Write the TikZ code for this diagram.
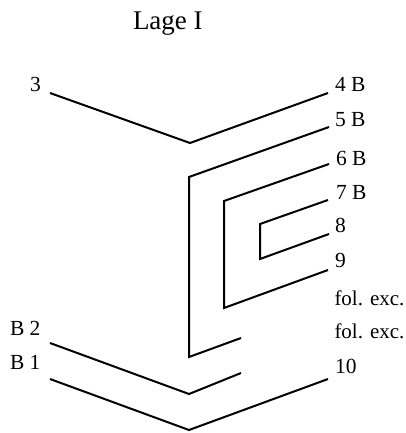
\documentclass[tikz,border=0pt]{standalone}
\usepackage{fontspec}
\setmainfont{Liberation Serif}
\tikzset{
  lab/.style={anchor=base west,inner sep=0pt,outer sep=0pt,font=\fontsize{21.5}{24}\selectfont,text=black},
  smalllab/.style={anchor=base west,inner sep=0pt,outer sep=0pt,font=\fontsize{21}{24}\selectfont,text=black},
  titlelab/.style={anchor=base west,inner sep=0pt,outer sep=0pt,font=\fontsize{27}{30}\selectfont,text=black},
  fold/.style={draw=black,line width=2pt,line join=miter,line cap=butt}
}
\begin{document}
\begin{tikzpicture}[x=1pt,y=-1pt]
\useasboundingbox (0,0) rectangle (405,433);
\node[titlelab] (title) at (133,30) {Lage I};
\node[lab] (l3) at (30,92) {3};
\node[lab] (l4) at (335,92) {4 B};
\node[lab] (l5) at (335,126) {5 B};
\node[lab] (l6) at (336,165) {6 B};
\node[lab] (l7) at (336,199) {7 B};
\node[lab] (l8) at (335,232) {8};
\node[lab] (l9) at (335,267) {9};
\node[smalllab] (f1) at (334.5,305) {fol. exc.};
\node[smalllab] (f2) at (334.5,338) {fol. exc.};
\node[lab] (l10) at (335,373) {10};
\node[lab] (b2) at (10,335) {B 2};
\node[lab] (b1) at (10,369) {B 1};
% sheet ends and folds
\coordinate (a1) at (50,93);  \coordinate (a2) at (190,143); \coordinate (a3) at (328,93);
\coordinate (c1) at (329,127); \coordinate (c2) at (189,177); \coordinate (c3) at (189,357); \coordinate (c4) at (241,338);
\coordinate (d1) at (329,164); \coordinate (d2) at (224,201); \coordinate (d3) at (224,308); \coordinate (d4) at (328,270);
\coordinate (e1) at (328,200); \coordinate (e2) at (260,224); \coordinate (e3) at (260,259); \coordinate (e4) at (329,234);
\coordinate (g1) at (50,343); \coordinate (g2) at (189,394); \coordinate (g3) at (241,373);
\coordinate (h1) at (50,379); \coordinate (h2) at (189,430); \coordinate (h3) at (328,379);
\draw[fold] (a1) -- (a2) -- (a3);
\draw[fold] (c1) -- (c2) -- (c3) -- (c4);
\draw[fold] (d1) -- (d2) -- (d3) -- (d4);
\draw[fold] (e1) -- (e2) -- (e3) -- (e4);
\draw[fold] (g1) -- (g2) -- (g3);
\draw[fold] (h1) -- (h2) -- (h3);
\end{tikzpicture}
\end{document}
